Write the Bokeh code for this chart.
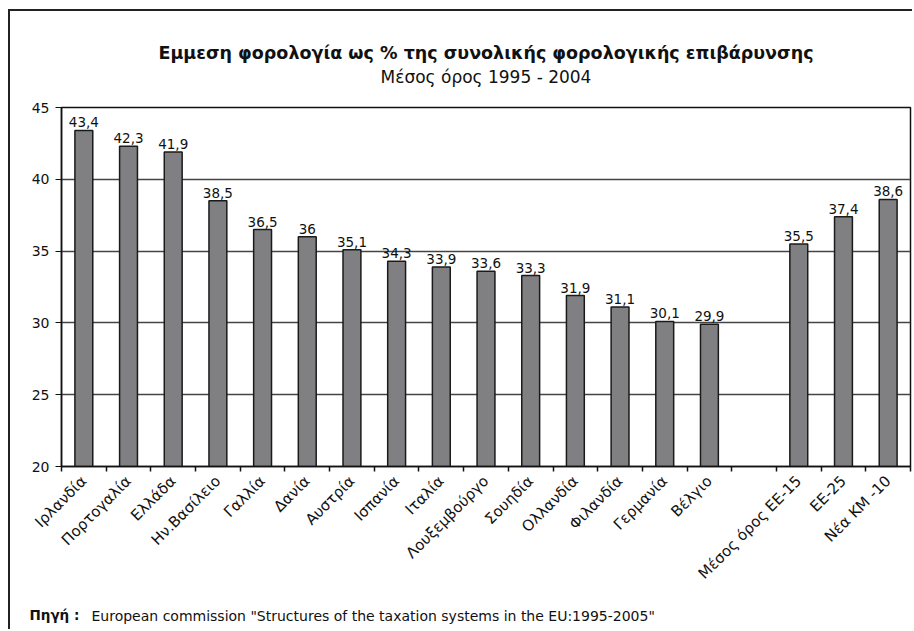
import math
from bokeh.plotting import figure
from bokeh.models import FixedTicker, Label, ColumnDataSource, Range1d, Title
from bokeh.core.properties import value
from bokeh.embed import file_html
from bokeh.resources import INLINE

categories = ["Ιρλανδία", "Πορτογαλία", "Ελλάδα", "Ην.Βασίλειο", "Γαλλία", "Δανία",
              "Αυστρία", "Ισπανία", "Ιταλία", "Λουξεμβούργο", "Σουηδία", "Ολλανδία",
              "Φιλανδία", "Γερμανία", "Βέλγιο", "", "Μέσος όρος ΕΕ-15", "ΕΕ-25", "Νέα ΚΜ -10"]
values = [43.4, 42.3, 41.9, 38.5, 36.5, 36.0, 35.1, 34.3, 33.9, 33.6, 33.3, 31.9,
          31.1, 30.1, 29.9, None, 35.5, 37.4, 38.6]
y_ticks = [20, 25, 30, 35, 40, 45]
title_text = "Εμμεση φορολογία ως % της συνολικής φορολογικής επιβάρυνσης"
subtitle_text = "Μέσος όρος 1995 - 2004"
source_bold = "Πηγή :"
source_text = 'European commission  "Structures of the taxation systems in the EU:1995-2005"'

FONT = "DejaVu Sans"

def fmt(v):
    return ("%g" % v).replace(".", ",")

xs, tops, labels = [], [], []
for i, v in enumerate(values):
    if v is None:
        continue
    xs.append(i + 0.5)
    tops.append(v)
    labels.append(fmt(v))
src = ColumnDataSource(dict(x=xs, top=tops, lab=labels))

n = len(categories)
p = figure(width=904, height=620, output_backend="svg", toolbar_location=None,
           x_range=Range1d(0, n), y_range=Range1d(20, 45),
           min_border_left=51, min_border_right=4, min_border_top=96, min_border_bottom=165,
           background_fill_color="white", border_fill_color="white")
p.styles = {"border-left": "2px solid #222", "border-top": "2px solid #222",
            "margin-left": "8px", "margin-top": "9px"}
p.outline_line_color = "#111"
p.outline_line_width = 1.5

p.vbar(x="x", top="top", bottom=20, width=0.4, source=src,
       fill_color="#808083", line_color="#1a1a1a", line_width=1.5)
p.text(x="x", y="top", text="lab", source=src, text_align="center",
       text_baseline="bottom", y_offset=-3, text_font=value(FONT), text_font_size="13.5px",
       text_color="#111")

# y axis
p.yaxis.ticker = FixedTicker(ticks=y_ticks)
p.yaxis.axis_line_color = "#111"
p.yaxis.axis_line_width = 1.5
p.yaxis.major_tick_out = 6
p.yaxis.major_tick_in = 0
p.yaxis.major_tick_line_color = "#111"
p.yaxis.minor_tick_line_color = None
p.yaxis.major_label_text_font = FONT
p.yaxis.major_label_text_font_size = "14px"
p.yaxis.major_label_text_color = "#111"
p.yaxis.major_label_standoff = 6

# x axis
centers = [i + 0.5 for i in range(n)]
p.xaxis.ticker = FixedTicker(ticks=centers, minor_ticks=list(range(n + 1)))
p.xaxis.major_label_overrides = {c: lab for c, lab in zip(centers, categories)}
p.xaxis.major_tick_line_color = None
p.xaxis.minor_tick_out = 5
p.xaxis.minor_tick_in = 0
p.xaxis.minor_tick_line_color = "#111"
p.xaxis.minor_tick_line_width = 1.5
p.xaxis.axis_line_color = "#111"
p.xaxis.axis_line_width = 1.5
p.xaxis.major_label_orientation = math.pi / 4
p.xaxis.major_label_text_font = FONT
p.xaxis.major_label_text_font_size = "15px"
p.xaxis.major_label_text_color = "#111"
p.xaxis.major_label_standoff = 6

p.xgrid.grid_line_color = None
p.ygrid.ticker = FixedTicker(ticks=y_ticks)
p.ygrid.grid_line_color = "#444"
p.ygrid.grid_line_width = 1.5

# titles (added nearest-to-frame first)
p.add_layout(Title(text=" ", text_font=FONT, text_font_size="15px", standoff=0), "above")
p.add_layout(Title(text=subtitle_text, align="center", text_font=FONT, standoff=2, offset=-5,
                   text_font_size="17px", text_font_style="normal", text_color="#111"), "above")
p.add_layout(Title(text=title_text, align="center", text_font=FONT, standoff=2, offset=-5,
                   text_font_size="17.5px", text_font_style="bold", text_color="#111"), "above")

# source line placed in the bottom side panels
p.add_layout(Label(x=-32, y=-7, x_units="screen", y_units="screen", text=source_bold,
                   text_align="left", text_baseline="middle", text_font=FONT,
                   text_font_size="13.5px", text_font_style="bold", text_color="#111"), "below")
p.add_layout(Label(x=30, y=8, x_units="screen", y_units="screen", text=source_text,
                   text_align="left", text_baseline="middle", text_font=FONT,
                   text_font_size="14px", text_color="#111"), "below")

open("out.html", "w").write(file_html(p, INLINE))
